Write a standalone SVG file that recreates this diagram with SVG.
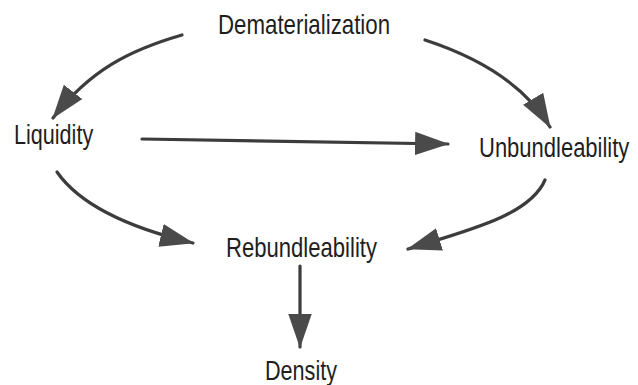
<svg xmlns="http://www.w3.org/2000/svg" width="638" height="385" viewBox="0 0 638 385">
<defs>
<style>
.lbl{font-family:"Liberation Sans",Arial,sans-serif;font-size:27px;fill:#1e1e1e}
.edge{fill:none;stroke:#3c3c3c;stroke-width:3.2;stroke-linecap:round}
</style>
<marker id="ah" markerUnits="userSpaceOnUse" markerWidth="34" markerHeight="24" viewBox="0 0 32 22" refX="31" refY="11" orient="auto">
<path d="M0,0 L32,11 L0,22 z" fill="#4a4a4a"/>
</marker>
</defs>
<rect width="638" height="385" fill="#ffffff"/>
<g id="connectors">
<path class="edge" d="M182,35 C130,50 90,70 53,118" marker-end="url(#ah)"/>
<path class="edge" d="M425,40 C480,58 525,85 550,127" marker-end="url(#ah)"/>
<path class="edge" d="M142,139 L448,144" marker-end="url(#ah)"/>
<path class="edge" d="M57,172 C80,205 130,228 193,243" marker-end="url(#ah)"/>
<path class="edge" d="M545,180 C530,215 470,230 408,249" marker-end="url(#ah)"/>
<path class="edge" d="M300,266 L300,347" marker-end="url(#ah)"/>
</g>
<g id="dematerialization"><text class="lbl" transform="translate(218,34) scale(0.825,1)">Dematerialization</text></g>
<g id="liquidity"><text class="lbl" transform="translate(14,144) scale(0.8,1)">Liquidity</text></g>
<g id="unbundleability"><text class="lbl" transform="translate(479,157) scale(0.815,1)">Unbundleability</text></g>
<g id="rebundleability"><text class="lbl" transform="translate(226,257) scale(0.818,1)">Rebundleability</text></g>
<g id="density"><text class="lbl" transform="translate(265,380) scale(0.8,1)">Density</text></g>
</svg>
